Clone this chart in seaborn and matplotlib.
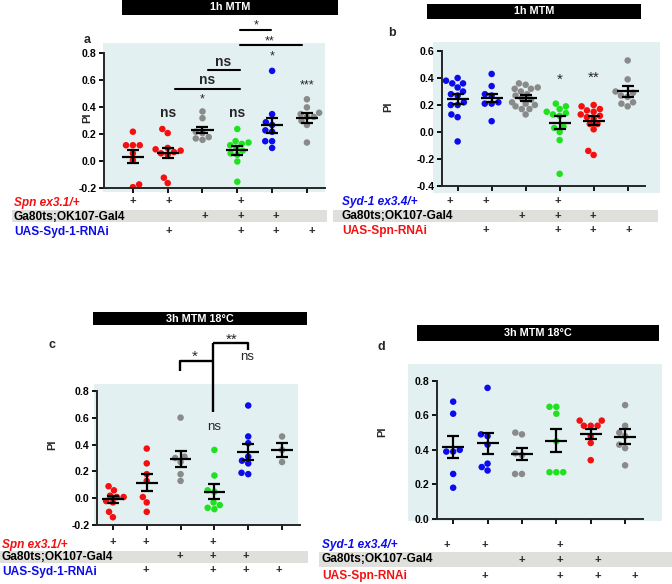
import numpy as np
import pandas as pd
import matplotlib
matplotlib.use('Agg')
import matplotlib.pyplot as plt
from matplotlib.patches import Rectangle
import seaborn as sns

sns.set_style('ticks')
plt.rcParams['font.family'] = ['Liberation Sans', 'DejaVu Sans']
plt.rcParams['axes.unicode_minus'] = False

RED = '#f50f0f'
BLUE = '#0b0bee'
GREEN = '#1ee21e'
GRAY = '#8a8a8a'
BG = '#e3f0f1'
BAND = '#dfdfdc'

# ---------------- data (PI values) ----------------
# Panel a : 1h MTM
a1 = [0.22, 0.12, 0.12, 0.12, 0.06, 0.01, -0.17, -0.19]
a2 = [0.24, 0.21, 0.10, 0.09, 0.08, 0.07, 0.06, 0.05, -0.12, -0.16]
a3 = [0.37, 0.32, 0.22, 0.21, 0.18, 0.17, 0.16]
a4 = [0.24, 0.15, 0.14, 0.13, 0.12, 0.10, 0.08, 0.06, 0.05, 0.00, -0.15]
a5 = [0.67, 0.35, 0.29, 0.27, 0.23, 0.22, 0.15, 0.15, 0.10]
a6 = [0.46, 0.40, 0.36, 0.35, 0.33, 0.33, 0.30, 0.27, 0.14]
a_mean = [0.035, 0.062, 0.234, 0.082, 0.268, 0.323]
a_sem = [0.050, 0.037, 0.021, 0.031, 0.055, 0.036]

# Panel b : 1h MTM
b1 = [0.40, 0.38, 0.36, 0.36, 0.33, 0.30, 0.28, 0.27, 0.22, 0.20, 0.20, 0.13, 0.11, -0.07]
b2 = [0.43, 0.34, 0.28, 0.27, 0.22, 0.21, 0.21, 0.08]
b3 = [0.36, 0.35, 0.33, 0.32, 0.32, 0.30, 0.28, 0.27, 0.25, 0.24, 0.22, 0.21, 0.20, 0.19, 0.17, 0.17, 0.13]
b4 = [0.21, 0.19, 0.17, 0.15, 0.14, 0.13, 0.12, 0.04, 0.03, 0.00, -0.06, -0.31]
b5 = [0.20, 0.19, 0.17, 0.16, 0.15, 0.13, 0.12, 0.11, 0.10, 0.06, 0.06, 0.02, -0.14, -0.17]
b6 = [0.53, 0.39, 0.30, 0.29, 0.27, 0.26, 0.22, 0.21, 0.19]
b_mean = [0.243, 0.250, 0.252, 0.070, 0.083, 0.300]
b_sem = [0.037, 0.031, 0.022, 0.046, 0.034, 0.042]

# Panel c : 3h MTM 18°C
c1 = [0.09, 0.06, 0.02, 0.01, 0.01, -0.02, -0.03, -0.10, -0.14]
c2 = [0.37, 0.26, 0.18, 0.13, 0.01, -0.03, -0.10]
c3 = [0.60, 0.31, 0.30, 0.27, 0.18, 0.13]
c4 = [0.36, 0.17, 0.06, 0.05, -0.03, -0.05, -0.07, -0.08]
c5 = [0.69, 0.46, 0.41, 0.31, 0.28, 0.26, 0.19, 0.18]
c6 = [0.46, 0.36, 0.27]
c_mean = [-0.008, 0.115, 0.292, 0.050, 0.345, 0.361]
c_sem = [0.027, 0.063, 0.058, 0.054, 0.060, 0.053]

# Panel d : 3h MTM 18°C
d1 = [0.68, 0.61, 0.40, 0.39, 0.39, 0.26, 0.18]
d2 = [0.76, 0.49, 0.48, 0.43, 0.32, 0.30, 0.28]
d3 = [0.50, 0.49, 0.38, 0.37, 0.26, 0.26]
d4 = [0.65, 0.65, 0.61, 0.45, 0.27, 0.27, 0.27]
d5 = [0.57, 0.57, 0.54, 0.54, 0.54, 0.48, 0.44, 0.34]
d6 = [0.66, 0.54, 0.50, 0.48, 0.43, 0.41, 0.31]
d_mean = [0.417, 0.437, 0.376, 0.453, 0.492, 0.477]
d_sem = [0.066, 0.063, 0.036, 0.068, 0.029, 0.044]

# genotype table
ac_rows = ['Spn ex3.1/+', 'Ga80ts;OK107-Gal4', 'UAS-Syd-1-RNAi']
bd_rows = ['Syd-1 ex3.4/+', 'Ga80ts;OK107-Gal4', 'UAS-Spn-RNAi']
row1_plus = [1, 1, 0, 1, 0, 0]
row2_plus = [0, 0, 1, 1, 1, 0]
row3_plus = [0, 1, 0, 1, 1, 1]

title_1h = '1h MTM'
title_3h = '3h MTM 18°C'

# ---------------- layout helpers ----------------
W, H = 672, 584
fig = plt.figure(figsize=(W / 100, H / 100), dpi=100)


def fx(x):
    return x / W


def fy(y):
    return 1 - y / H


def rect(x0, x1, y0, y1, color, z=-5):
    fig.add_artist(Rectangle((fx(x0), fy(y1)), (x1 - x0) / W, (y1 - y0) / H,
                             transform=fig.transFigure, facecolor=color,
                             edgecolor='none', zorder=z))


def ftext(x, y, s, **kw):
    fig.text(fx(x), fy(y), s, **kw)


def panel(box, bg, groups, colors, means, sems, ylim, yticks, xlim):
    left, right, top, bottom = box
    rect(*bg, BG)
    ax = fig.add_axes([fx(left), fy(bottom), (right - left) / W, (bottom - top) / H])
    ax.set_facecolor('none')
    names = [f'G{i}' for i in range(6)]
    df = pd.DataFrame({
        'grp': np.concatenate([[names[i]] * len(g) for i, g in enumerate(groups)]),
        'PI': np.concatenate(groups),
    })
    sns.swarmplot(data=df, x='grp', y='PI', hue='grp', order=names, hue_order=names,
                  palette=dict(zip(names, colors)), size=4.7, legend=False,
                  linewidth=0, ax=ax, zorder=2)
    xs = np.arange(6)
    ax.hlines(means, xs - 0.32, xs + 0.32, color='black', lw=1.6, zorder=4)
    ax.errorbar(xs, means, yerr=sems, fmt='none', ecolor='black', elinewidth=1.6,
                capsize=4.2, capthick=1.6, zorder=4)
    ax.set_xlim(*xlim)
    ax.set_ylim(*ylim)
    ax.set_yticks(yticks)
    ax.set_yticklabels([f'{t:.1f}' for t in yticks], fontsize=7.6, fontweight='bold')
    ax.set_xticks(xs)
    ax.set_xticklabels([])
    ax.set_xlabel('')
    ax.set_ylabel('')
    for s in ['top', 'right']:
        ax.spines[s].set_visible(False)
    for s in ['left', 'bottom']:
        ax.spines[s].set_linewidth(1.4)
    ax.tick_params(axis='both', length=3.8, width=1.3, pad=1.5, colors='black')
    return ax


def title_bar(x0, x1, y0, y1, s):
    rect(x0, x1, y0, y1, 'black', z=-4)
    ftext((x0 + x1) / 2, (y0 + y1) / 2, s, color='white', fontsize=7.8,
          fontweight='bold', ha='center', va='center')


def table(rows, colors, label_x, label_ys, plus_x0, plus_dx, plus_ys, band):
    rect(*band, BAND)
    styles = ['italic', 'normal', 'normal']
    for r, (lab, col, ly, sty) in enumerate(zip(rows, colors, label_ys, styles)):
        ftext(label_x, ly, lab, color=col, fontsize=8.6, fontweight='bold',
              fontstyle=sty, ha='left', va='center')
    for r, plus in enumerate([row1_plus, row2_plus, row3_plus]):
        for i, p in enumerate(plus):
            if p:
                ftext(plus_x0 + plus_dx * i, plus_ys[r], '+', fontsize=8,
                      fontweight='bold', ha='center', va='center')


# ---------------- panel a ----------------
ax_a = panel((104, 325, 53.3, 188.5), (103, 325, 43, 192),
             [a1, a2, a3, a4, a5, a6], [RED, RED, GRAY, GREEN, BLUE, GRAY],
             a_mean, a_sem, (-0.2, 0.8), [-0.2, 0.0, 0.2, 0.4, 0.6, 0.8], (-0.83, 5.52))
title_bar(122, 338, 0, 15, title_1h)
ftext(87, 40, 'a', fontsize=9, fontweight='bold', ha='center', va='center')
ftext(87, 118, 'PI', fontsize=8, fontweight='bold', rotation=90, ha='center', va='center')
kw_ns = dict(fontsize=10, fontweight='bold', ha='center', va='center', clip_on=False)
kw_st = dict(fontsize=9, ha='center', va='center', clip_on=False)
ax_a.text(1, 0.355, 'ns', **kw_ns)
ax_a.text(3, 0.36, 'ns', **kw_ns)
ax_a.text(2, 0.46, '*', **kw_st)
ax_a.text(4, 0.775, '*', **kw_st)
ax_a.text(5, 0.56, '***', **kw_st)
for (x0, x1, y) in [(1.2, 3.07, 0.538), (2.16, 3.07, 0.674), (3.07, 4.85, 0.859), (3.07, 3.98, 0.97)]:
    ax_a.plot([x0, x1], [y, y], color='black', lw=1.5, clip_on=False, zorder=5)
ax_a.text(2.12, 0.60, 'ns', **kw_ns)
ax_a.text(2.6, 0.735, 'ns', **kw_ns)
ax_a.text(3.94, 0.89, '**', **kw_st)
ax_a.text(3.53, 1.005, '*', **kw_st)
table(ac_rows, [RED, 'black', BLUE], 14, [203, 217, 232], 133, 35.8, [201, 216, 231],
      (12, 327, 210, 222))

# ---------------- panel b ----------------
ax_b = panel((442, 645, 51, 186), (433, 660, 42, 193),
             [b1, b2, b3, b4, b5, b6], [BLUE, BLUE, GRAY, GREEN, RED, GRAY],
             b_mean, b_sem, (-0.4, 0.6), [-0.4, -0.2, 0.0, 0.2, 0.4, 0.6], (-0.46, 5.51))
title_bar(427, 641, 4, 19, title_1h)
ftext(392, 33, 'b', fontsize=9, fontweight='bold', ha='center', va='center')
ftext(388, 107, 'PI', fontsize=8, fontweight='bold', rotation=90, ha='center', va='center')
kw_st_b = dict(fontsize=11, ha='center', va='center', clip_on=False)
ax_b.text(3, 0.39, '*', **kw_st_b)
ax_b.text(4, 0.40, '**', **kw_st_b)
table(bd_rows, [BLUE, 'black', RED], 342, [202, 216, 231], 450, 35.8, [201, 216, 230],
      (333, 658, 210, 222))

# ---------------- panel c ----------------
ax_c = panel((97, 300, 390.7, 525.3), (94, 298, 384, 526),
             [c1, c2, c3, c4, c5, c6], [RED, RED, GRAY, GREEN, BLUE, GRAY],
             c_mean, c_sem, (-0.2, 0.8), [-0.2, 0.0, 0.2, 0.4, 0.6, 0.8], (-0.47, 5.53))
title_bar(93, 307, 312, 325, title_3h)
ftext(52, 345, 'c', fontsize=9, fontweight='bold', ha='center', va='center')
ftext(52, 445, 'PI', fontsize=8, fontweight='bold', rotation=90, ha='center', va='center')
lk = dict(color='black', lw=1.7, clip_on=False, zorder=5, solid_capstyle='butt')
ax_c.plot([1.98, 1.98, 2.97], [0.95, 1.02, 1.02], **lk)
ax_c.plot([2.97, 2.97], [0.639, 1.155], **lk)
ax_c.plot([2.97, 4.0, 4.0], [1.155, 1.155, 1.106], **lk)
kw_c = dict(fontsize=9.5, ha='center', va='center', clip_on=False)
ax_c.text(2.43, 1.055, '*', fontsize=11, ha='center', va='center', clip_on=False)
ax_c.text(3.51, 1.175, '**', fontsize=11, ha='center', va='center', clip_on=False)
ax_c.text(3.96, 1.05, 'ns', **kw_c)
ax_c.text(3.0, 0.53, 'ns', **kw_c)
table(ac_rows, [RED, 'black', BLUE], 2, [545, 557, 572], 113, 33.2, [542, 556, 570],
      (0, 308, 551, 563))

# ---------------- panel d ----------------
ax_d = panel((437, 643, 381, 518.7), (408, 662, 364, 521),
             [d1, d2, d3, d4, d5, d6], [BLUE, BLUE, GRAY, GREEN, RED, GRAY],
             d_mean, d_sem, (0.0, 0.8), [0.0, 0.2, 0.4, 0.6, 0.8], (-0.47, 5.52))
title_bar(417, 659, 325, 341, title_3h)
ftext(381, 347, 'd', fontsize=9, fontweight='bold', ha='center', va='center')
ftext(382, 432, 'PI', fontsize=8, fontweight='bold', rotation=90, ha='center', va='center')
table(bd_rows, [BLUE, 'black', RED], 322, [545, 559, 576], 447, 37.6, [545, 560, 576],
      (319, 672, 552, 567))

fig.savefig('out.png', dpi=100)
